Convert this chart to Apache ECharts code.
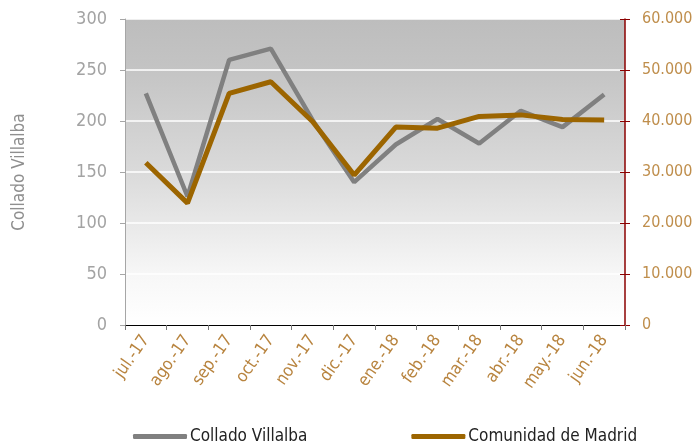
<!DOCTYPE html>
<html>
<head>
<meta charset="utf-8">
<script src="https://cdn.jsdelivr.net/npm/echarts@6/dist/echarts.min.js"></script>
<style>html,body{margin:0;padding:0;background:#fff;}#c{width:696px;height:447px;}</style>
</head>
<body>
<div id="c"></div>
<script>
const categories = ['jul.-17','ago.-17','sep.-17','oct.-17','nov.-17','dic.-17','ene.-18','feb.-18','mar.-18','abr.-18','may.-18','jun.-18'];
const colladoVillalba = [227, 126, 260, 271, 201, 140, 177, 202, 178, 210, 194, 226];
const comunidadMadrid = [31800, 23900, 45400, 47700, 39900, 29400, 38800, 38600, 40900, 41200, 40300, 40200];
const leftTicks = [0, 50, 100, 150, 200, 250, 300];
const rightTicks = [0, 10000, 20000, 30000, 40000, 50000, 60000];

const FONT = "'Liberation Sans Narrow', 'Arial Narrow', 'DejaVu Sans Condensed', Roboto, sans-serif";
const chart = echarts.init(document.getElementById('c'), null, {renderer: 'canvas'});
function fmtThousands(v){ return String(v).replace(/\B(?=(\d{3})+(?!\d))/g, '.'); }
chart.setOption({
  animation: false,
  textStyle: {fontFamily: FONT},
  grid: {
    left: 125, right: 71, top: 19, bottom: 122,
    outerBoundsMode: 'none', containLabel: false,
    show: true, borderWidth: 0,
    backgroundColor: {type: 'linear', x: 0, y: 0, x2: 0, y2: 1, colorStops: [
      {offset: 0, color: '#bdbdbd'}, {offset: 0.15, color: '#c3c3c3'},
      {offset: 0.5, color: '#dadada'}, {offset: 0.85, color: '#f8f8f8'}, {offset: 1, color: '#ffffff'}]}
  },
  legend: {
    bottom: -3, left: 128, itemWidth: 54, itemHeight: 5, itemGap: 104,
    icon: 'roundRect',
    textStyle: {fontFamily: FONT, fontSize: 17, color: '#222', padding: [0,0,0,-2]},
    data: [
      {name: 'Collado Villalba', itemStyle: {color: '#808080'}},
      {name: 'Comunidad de Madrid', itemStyle: {color: '#9c6500'}}
    ]
  },
  xAxis: {
    type: 'category', data: categories, boundaryGap: true,
    axisLine: {lineStyle: {color: '#000', width: 1}},
    axisTick: {show: true, alignWithLabel: false, length: 5, lineStyle: {color: '#777'}},
    axisLabel: {rotate: 55, color: '#b8843f', fontSize: 17, fontFamily: FONT, margin: 12, interval: 0},
    splitLine: {show: false}
  },
  yAxis: [
    {
      type: 'value', min: 0, max: 300, interval: 50, position: 'left',
      name: 'Collado Villalba', nameLocation: 'middle', nameGap: 97, nameRotate: 90,
      nameTextStyle: {color: '#8f8f8f', fontSize: 17, fontFamily: FONT},
      axisLine: {show: true, lineStyle: {color: '#a6a6a6', width: 1}},
      axisTick: {show: true, length: 5, lineStyle: {color: '#a6a6a6'}},
      axisLabel: {color: '#a3a3a3', fontSize: 18, fontFamily: FONT, margin: 18,
        formatter: v => leftTicks.includes(v) ? String(v) : ''},
      splitLine: {show: true, lineStyle: {color: '#ffffff', width: 1.5}}
    },
    {
      type: 'value', min: 0, max: 60000, interval: 10000, position: 'right',
      axisLine: {show: false},
      axisTick: {show: true, inside: true, length: 5, lineStyle: {color: '#8b0000'}},
      axisLabel: {show: false},
      splitLine: {show: false}
    },
    {
      type: 'value', min: 0, max: 60000, interval: 10000, position: 'right',
      axisLine: {show: true, lineStyle: {color: '#8b0000', width: 1.5}},
      axisTick: {show: true, length: 5, lineStyle: {color: '#8b0000'}},
      axisLabel: {color: '#bf8e4c', fontSize: 16, fontFamily: FONT, margin: 17,
        formatter: v => rightTicks.includes(v) ? fmtThousands(v) : ''},
      splitLine: {show: false}
    }
  ],
  series: [
    {
      name: 'Collado Villalba', type: 'line', yAxisIndex: 0, data: colladoVillalba,
      symbol: 'none', lineStyle: {color: '#808080', width: 4.5}, itemStyle: {color: '#808080'}
    },
    {
      name: 'Comunidad de Madrid', type: 'line', yAxisIndex: 2, data: comunidadMadrid,
      symbol: 'none', lineStyle: {color: '#9c6500', width: 5}, itemStyle: {color: '#9c6500'}
    }
  ]
});
</script>
</body>
</html>
